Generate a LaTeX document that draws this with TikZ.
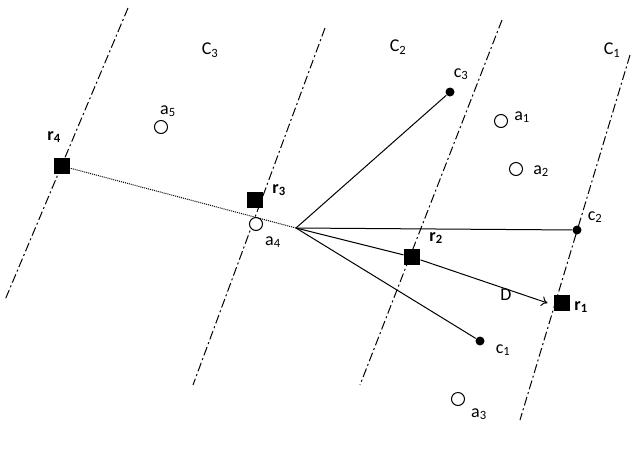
\documentclass[tikz,border=0pt]{standalone}
\usepackage{fontspec}
\setmainfont{Carlito}
\usetikzlibrary{positioning,arrows.meta}
\begin{document}
\begin{tikzpicture}[
    x=1pt, y=-1pt, >={To[length=6pt,width=10pt]}, line width=1pt, font=\fontsize{18}{21}\selectfont,
    border/.style={black, dash pattern=on 9pt off 3pt on 2pt off 3pt},
    rep/.style={rectangle, fill=black, inner sep=0pt, minimum size=16pt},
    cent/.style={circle, fill=black, inner sep=0pt, minimum size=9pt},
    pnt/.style={circle, draw=black, fill=white, inner sep=0pt, minimum size=13pt},
    lbl/.style={inner sep=1pt}
  ]
  \useasboundingbox (0,0) rectangle (643,448);

  % cluster borders
  \draw[border] (128,8) -- (5,300);
  \draw[border] (325,28) -- (193,385);
  \draw[border] (502,20) -- (360,385);
  \draw[border] (630,55) -- (520,420);

  \node[lbl] (C3) at (210,50) {C\textsubscript{3}};
  \node[lbl] (C2) at (398,47) {C\textsubscript{2}};
  \node[lbl] (C1) at (612,50) {C\textsubscript{1}};

  \coordinate (o) at (296,228);

  % points
  \node[pnt] (a5) at (161,127) {};
  \node[pnt] (a1) at (501,121) {};
  \node[pnt] (a2) at (516,169) {};
  \node[pnt] (a4) at (256,224) {};
  \node[pnt] (a3) at (458,399) {};
  \node[lbl] at (168,111) {a\textsubscript{5}};
  \node[lbl] at (522,117) {a\textsubscript{1}};
  \node[lbl] at (541,171) {a\textsubscript{2}};
  \node[lbl] at (273,242) {a\textsubscript{4}};
  \node[lbl] at (479,414) {a\textsubscript{3}};

  % centres
  \node[cent] (c3) at (450,92) {};
  \node[cent] (c2) at (577,230) {};
  \node[cent] (c1) at (480,341) {};
  \node[lbl] at (461,74) {c\textsubscript{3}};
  \node[lbl] at (595,217) {c\textsubscript{2}};
  \node[lbl] at (503,350) {c\textsubscript{1}};

  % representatives
  \node[rep] (r4) at (62,166) {};
  \node[rep] (r3) at (255,200) {};
  \node[rep] (r2) at (412,257) {};
  \node[rep] (r1) at (562,303) {};
  \node[lbl] at (54,137) {\textbf{r\textsubscript{4}}};
  \node[lbl] at (279,190) {\textbf{r\textsubscript{3}}};
  \node[lbl] at (436,238) {\textbf{r\textsubscript{2}}};
  \node[lbl] at (581,307) {\textbf{r\textsubscript{1}}};

  \draw (o) -- (c3);
  \draw (o) -- (c2);
  \draw (o) -- (c1);
  \draw (o) -- (r2);
  \draw[->] (r2) -- ([xshift=-6pt]r1.west);
  \draw[densely dotted] (o) -- (r4);
  \node[lbl] (D) at (506,295) {D};
\end{tikzpicture}
\end{document}
